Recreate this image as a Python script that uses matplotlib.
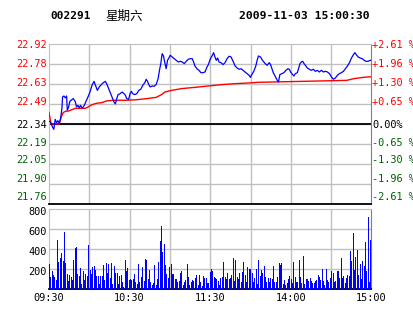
import numpy as np
import matplotlib
matplotlib.use("Agg")
import matplotlib.pyplot as plt
import matplotlib.transforms as mtransforms

plt.rcParams['font.family'] = ['DejaVu Sans Mono', 'Noto Sans CJK SC']

# ---------------- data ----------------
code = "002291"
weekday = "星期六"
stamp = "2009-11-03 15:00:30"
prev_close = 22.34

price_t = [0, 1.1, 2.6, 3.6, 4.6, 5.6, 6.6, 7.6, 8.6, 9.6, 10.1, 11.1, 12.1, 13.1, 13.6, 14.6,
           15.5, 16.5, 18.0, 19.5, 20.5, 21.5, 22.5, 23.5, 24.5, 25.5, 26.5, 27.5, 29.0, 30.5,
           32.0, 33.5, 35.0, 36.0, 37.4, 38.9, 40.4, 41.9, 42.9, 44.4, 45.9, 46.9, 48.4, 49.4,
           50.4, 51.4, 52.9, 54.4, 55.9, 56.9, 57.8, 59.3, 60.3, 61.3, 62.3, 63.8, 65.3, 66.8,
           68.3, 69.8, 71.3, 72.3, 73.3, 74.3, 75.3, 76.8, 78.2, 79.7, 81.2, 82.2, 83.2, 84.2,
           85.2, 86.2, 87.2, 88.2, 89.2, 90.2, 91.7, 93.2, 94.7, 96.2, 97.7, 99.2, 100.7, 102.1,
           103.6, 105.1, 106.6, 107.6, 108.6, 110.1, 111.6, 113.1, 114.6, 116.1, 117.6, 118.6,
           120.1, 121.6, 122.5, 123.5, 124.5, 125.5, 126.5, 128.0, 129.5, 131.0, 132.5, 134.0,
           135.5, 137.0, 138.5, 140.0, 141.5, 143.0, 144.4, 145.9, 147.4, 148.9, 149.9, 150.9,
           152.4, 153.9, 154.9, 155.9, 157.4, 158.9, 160.9, 162.4, 163.9, 164.9, 165.9, 166.9,
           167.9, 168.9, 169.9, 170.8, 171.8, 173.3, 174.8, 176.3, 177.8, 178.8, 179.8, 181.3,
           182.3, 183.3, 184.8, 185.8, 186.8, 187.8, 188.8, 189.8, 190.8, 192.2, 193.7, 195.2,
           196.7, 198.2, 199.7, 201.2, 202.7, 204.2, 205.7, 207.2, 208.7, 210.2, 211.6, 213.1,
           214.6, 216.1, 217.6, 219.1, 220.6, 222.1, 223.6, 225.1, 226.6, 227.6, 228.6, 230.1,
           231.6, 233.1, 234.6, 236.0, 237.5, 239.0, 240.0]
price = [22.36, 22.355, 22.318, 22.301, 22.374, 22.350, 22.364, 22.345, 22.379, 22.452, 22.537,
         22.544, 22.530, 22.544, 22.440, 22.464, 22.505, 22.513, 22.525, 22.505, 22.464, 22.476,
         22.459, 22.476, 22.457, 22.464, 22.481, 22.505, 22.537, 22.573, 22.622, 22.651, 22.610,
         22.585, 22.610, 22.627, 22.641, 22.651, 22.634, 22.598, 22.561, 22.537, 22.500, 22.486,
         22.525, 22.554, 22.561, 22.573, 22.561, 22.549, 22.525, 22.520, 22.561, 22.578, 22.561,
         22.554, 22.561, 22.585, 22.593, 22.622, 22.641, 22.666, 22.651, 22.627, 22.610, 22.617,
         22.615, 22.627, 22.670, 22.731, 22.780, 22.853, 22.836, 22.787, 22.743, 22.804, 22.821,
         22.841, 22.828, 22.816, 22.804, 22.792, 22.797, 22.792, 22.780, 22.797, 22.811, 22.816,
         22.816, 22.792, 22.763, 22.743, 22.731, 22.714, 22.714, 22.719, 22.756, 22.773, 22.816,
         22.841, 22.860, 22.828, 22.804, 22.821, 22.792, 22.787, 22.773, 22.787, 22.816, 22.834,
         22.828, 22.797, 22.763, 22.748, 22.739, 22.743, 22.731, 22.719, 22.707, 22.695, 22.680,
         22.700, 22.724, 22.763, 22.804, 22.836, 22.828, 22.804, 22.780, 22.768, 22.787, 22.773,
         22.743, 22.714, 22.695, 22.675, 22.658, 22.646, 22.700, 22.707, 22.714, 22.731, 22.743,
         22.739, 22.719, 22.700, 22.690, 22.707, 22.714, 22.748, 22.780, 22.792, 22.797, 22.780,
         22.768, 22.748, 22.739, 22.731, 22.739, 22.724, 22.731, 22.719, 22.731, 22.719, 22.724,
         22.719, 22.707, 22.683, 22.666, 22.675, 22.695, 22.707, 22.714, 22.724, 22.743, 22.763,
         22.787, 22.821, 22.846, 22.860, 22.846, 22.828, 22.821, 22.816, 22.804, 22.797, 22.797,
         22.804, 22.804]

avg_t = [0, 1.5, 7.6, 9.1, 10.6, 12.1, 14.6, 17.0, 19.5, 27.0, 29.5, 32.0, 35.5, 39.4, 42.9,
         47.9, 57.8, 65.3, 72.8, 79.7, 83.7, 86.2, 91.2, 98.7, 108.6, 118.6, 128.5, 138.5,
         148.4, 155.9, 189.3, 221.6, 226.6, 234.0, 240.0]
avg = [22.423, 22.340, 22.340, 22.391, 22.423, 22.432, 22.435, 22.444, 22.454, 22.454, 22.466,
       22.481, 22.491, 22.496, 22.508, 22.513, 22.513, 22.517, 22.525, 22.534, 22.554, 22.573,
       22.585, 22.598, 22.607, 22.617, 22.627, 22.634, 22.639, 22.644, 22.651, 22.658, 22.670,
       22.680, 22.685]

volume = [243, 118, 175, 135, 118, 84, 489, 270, 310, 354, 277, 567, 253, 142, 74, 135, 118, 84,
          287, 405, 415, 142, 128, 203, 44, 175, 84, 142, 128, 439, 186, 145, 213, 226, 186, 125,
          125, 44, 125, 125, 236, 84, 253, 152, 243, 101, 253, 44, 226, 159, 159, 44, 125, 135,
          61, 17, 287, 175, 203, 84, 95, 84, 95, 142, 61, 44, 243, 68, 118, 219, 74, 297, 287,
          95, 186, 61, 34, 51, 236, 34, 95, 270, 479, 631, 371, 446, 236, 145, 108, 213, 243,
          145, 145, 95, 95, 68, 74, 152, 175, 40, 68, 84, 243, 118, 34, 61, 84, 74, 108, 135,
          34, 135, 61, 27, 128, 108, 108, 51,
          51, 169, 192, 175, 118, 108, 95, 74, 40, 108, 118, 270, 118, 95, 152, 95, 108, 135,
          310, 74, 287, 118, 95, 152, 68, 169, 270, 135, 61, 219, 196, 196, 152, 61, 101, 196,
          44, 287, 128, 186, 152, 226, 118, 68, 101, 61, 101, 95, 226, 68, 68, 118, 253, 236,
          253, 44, 84, 40, 51, 95, 125, 95, 51, 270, 118, 68, 61, 287, 118, 51, 331, 47, 95,
          95, 74, 108, 74, 51, 51, 74, 84, 135, 118, 84, 196, 74, 34, 196, 84, 61, 108, 175,
          152, 61, 74, 175, 175, 108, 310, 108, 128, 51, 108, 135, 128, 378, 277, 557, 186,
          321, 388, 135, 243, 95, 277, 230, 466, 175, 719, 68, 489]

pct_levels = [-2.61, -1.96, -1.30, -0.65, 0.00, 0.65, 1.30, 1.96, 2.61]
price_labels = ["21.76", "21.90", "22.05", "22.19", "22.34", "22.49", "22.63", "22.78", "22.92"]
pct_labels = ["-2.61 %", "-1.96 %", "-1.30 %", "-0.65 %", "0.00%", "+0.65 %", "+1.30 %",
              "+1.96 %", "+2.61 %"]
time_ticks = [0, 60, 120, 180, 240]
time_labels = ["09:30", "10:30", "11:30", "14:00", "15:00"]
vol_ticks = [200, 400, 600, 800]
vol_labels = ["200", "400", "600", "800"]

# ---------------- style ----------------
RED = "#ff0000"
GREEN = "#006400"
GRID = "#c0c0c0"
W, H = 414, 314
# pixel rows (from top) where the axis labels of each level sit
label_rows = [197.5, 179, 160, 142.5, 124.5, 102, 83, 64, 45]

fig = plt.figure(figsize=(W / 100, H / 100), dpi=100)
fig.patch.set_facecolor("white")

L, R = 49, 371.5
ax = fig.add_axes([L / W, (H - 204) / H, (R - L) / W, 160 / H])
axv = fig.add_axes([L / W, (H - 288.5) / H, (R - L) / W, 79.5 / H])

levels = [prev_close * (1 + p / 100) for p in pct_levels]
ax.set_xlim(0, 240)
ax.set_ylim(levels[0], levels[-1])
for lv in levels[1:-1]:
    ax.axhline(lv, color=GRID, lw=1.0, zorder=1)
for t in range(30, 240, 30):
    ax.axvline(t, color=GRID, lw=1.0, zorder=1)
ax.axhline(prev_close, color="black", lw=1.3, zorder=2)
ax.plot(avg_t, avg, color=RED, lw=1.0, zorder=3)
ax.plot(price_t, price, color="#0000ff", lw=0.9, zorder=4)
ax.set_xticks([])
ax.set_yticks([])
for s in ["top", "left"]:
    ax.spines[s].set_color(GRID)
ax.spines["right"].set_color("#808080")
ax.spines["bottom"].set_color("black")
ax.spines["bottom"].set_linewidth(1.3)

for i, (lab, plab) in enumerate(zip(price_labels, pct_labels)):
    p = pct_levels[i]
    col = RED if p > 0 else (GREEN if p < 0 else "black")
    yy = 1 - label_rows[i] / H
    fig.text((L - 2.5) / W, yy, lab, ha="right", va="center", fontsize=7.4, color=col)
    fig.text((R + 0.8) / W, yy, plab, ha="left", va="center", fontsize=7.4, color=col)

# volume
n = len(volume)
xs = np.linspace(0.4, 239.5, n)
axv.bar(xs, volume, width=0.75, color="#0000ff", linewidth=0, antialiased=False, zorder=3)
axv.set_xlim(0, 240)
axv.set_ylim(0, 800)
for v in vol_ticks[:-1]:
    axv.axhline(v, color=GRID, lw=1.0, zorder=1)
for t in range(30, 240, 30):
    axv.axvline(t, color=GRID, lw=1.0, zorder=1)
axv.set_xticks([])
axv.set_yticks([])
for s in ["top", "left"]:
    axv.spines[s].set_color(GRID)
axv.spines["right"].set_color("#808080")
axv.spines["bottom"].set_color("black")
axv.spines["bottom"].set_linewidth(1.3)

off = mtransforms.offset_copy(axv.get_yaxis_transform(), fig=fig, x=0, y=-3, units="dots")
for v, lab in zip(vol_ticks, vol_labels):
    axv.text(-0.008, v, lab, transform=off, ha="right", va="center", fontsize=7.4, color="black")
for t, lab in zip(time_ticks, time_labels):
    axv.text(t, -0.12, lab, transform=axv.get_xaxis_transform(), ha="center", va="center",
             fontsize=7.4, color="black")

fig.text(50 / W, 1 - 16 / H, code, ha="left", va="center", fontsize=8.0, fontweight="bold",
         color="black")
fig.text(105 / W, 1 - 16 / H, weekday, ha="left", va="center", fontsize=9,
         family=["Noto Sans CJK SC", "DejaVu Sans"], color="black")
fig.text(370 / W, 1 - 16 / H, stamp, ha="right", va="center", fontsize=8.2, fontweight="bold",
         color="black")

fig.savefig("out.png", dpi=100)
